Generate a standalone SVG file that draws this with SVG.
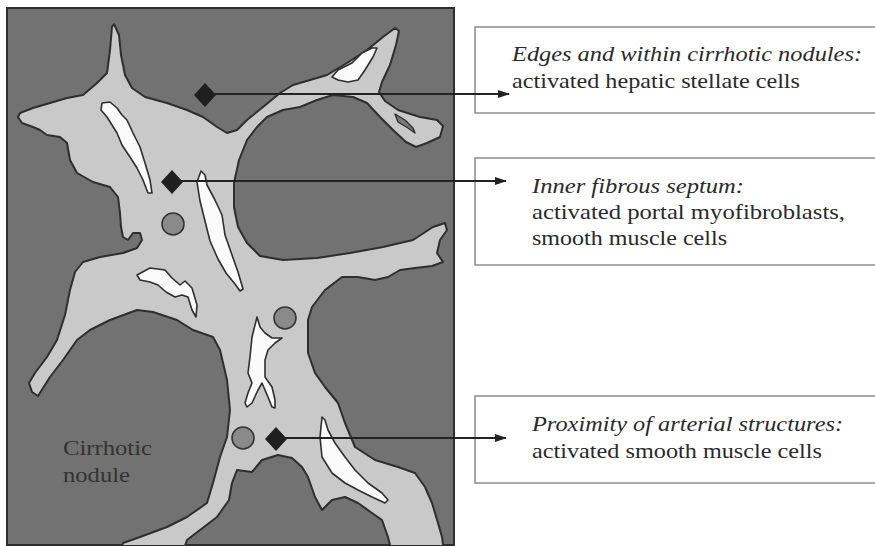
<svg xmlns="http://www.w3.org/2000/svg" width="875" height="546" viewBox="0 0 875 546">
  <style>
    .frame { fill: #727272; stroke: #2e2e2e; stroke-width: 2; }
    .septum { fill: #c9c9c9; stroke: #2e2e2e; stroke-width: 2; stroke-linejoin: round; }
    .lumen { fill: #fbfbfb; stroke: #2e2e2e; stroke-width: 1.6; stroke-linejoin: round; }
    .pocket { fill: #7a7a7a; stroke: #2e2e2e; stroke-width: 1.4; stroke-linejoin: round; }
    .vessel { fill: #8a8a8a; stroke: #353535; stroke-width: 1.6; }
    .marker { fill: #1f1f1f; }
    .box { fill: #ffffff; stroke: #8c8c8c; stroke-width: 1.5; }
    .lead { stroke: #222222; stroke-width: 2; fill: none; }
    .txt { font-family: "Liberation Serif", "Times New Roman", serif; font-size: 21px; fill: #2a2a2a; }
    .it { font-style: italic; }
    .nod { font-family: "Liberation Serif", "Times New Roman", serif; font-size: 22px; fill: #333333; }
  </style>
  <defs>
    <clipPath id="tissue">
      <rect x="7" y="8" width="447" height="537"/>
    </clipPath>
    <marker id="arrow" viewBox="0 0 12 10" refX="11" refY="5" markerWidth="12" markerHeight="10" markerUnits="userSpaceOnUse" orient="auto">
      <path d="M0,1 L12,5 L0,9 Z" fill="#222222"/>
    </marker>
  </defs>

  <!-- tissue section -->
  <g id="section">
    <rect class="frame" x="7" y="8" width="447" height="537"/>
    <g clip-path="url(#tissue)">
      <!-- fibrous septum network -->
      <path class="septum" d="M114,24 L119,35 121,55 125,75 132,88 145,97 167,103 187,110 203,117 217,127 227,133 237,130 247,120 263,107 280,93 293,85 310,80 327,75 347,63 367,50 383,37 395,28 399,31 396,45 390,65 382,82 379,92 385,101 398,110 420,117 437,120 443,126 440,137 427,143 416,147 406,142 393,130 380,117 367,103 353,97 333,95 317,100 300,107 283,110 267,117 257,127 247,140 239,160 234,183 234,207 238,227 247,243 260,256 283,260 317,258 350,253 383,247 413,240 433,227 445,223 447,230 440,240 437,253 443,262 432,266 415,268 400,270 388,277 375,280 358,277 342,277 325,290 312,307 308,320 308,353 315,373 325,387 338,403 345,423 355,447 375,460 398,467 415,473 425,487 432,503 438,523 442,537 444,552 L390,552 390,545 388,537 382,520 372,513 358,503 345,497 332,500 322,510 315,497 308,477 302,467 292,458 278,455 262,460 252,472 237,470 232,483 229,500 217,517 200,530 187,540 183,552 L120,552 123,543 140,537 167,527 187,517 207,503 213,483 220,457 227,437 230,410 227,380 220,350 213,337 193,330 177,320 153,312 137,310 110,320 90,330 77,340 63,360 50,377 38,396 32,392 29,383 35,373 47,357 57,340 65,315 70,290 75,272 83,262 100,257 123,253 137,248 142,240 140,233 133,233 128,240 123,237 121,227 120,213 118,197 110,187 93,182 77,173 70,160 67,143 60,137 47,135 40,130 33,127 22,123 18,117 20,113 33,108 50,103 67,98 83,95 97,83 107,73 110,50 112,27 Z"/>
      <!-- open lumina -->
      <path class="lumen" d="M102,103 L110,102 117,108 122,115 127,120 133,133 140,147 145,163 150,180 152,193 148,193 143,180 137,168 130,157 122,145 117,133 112,125 107,117 101,110 Z"/>
      <path class="lumen" d="M201,171 L205,175 207,185 215,200 222,215 225,235 232,255 238,272 243,289 240,291 235,284 226,273 218,259 210,241 205,221 200,201 197,182 Z"/>
      <path class="lumen" d="M137,275 L150,268 165,270 172,278 180,285 185,281 192,288 197,305 196,317 192,310 188,297 182,295 175,297 166,292 158,285 150,282 140,280 Z"/>
      <path class="lumen" d="M257,317 L252,337 250,357 248,373 252,383 248,393 245,403 247,407 252,403 258,390 262,383 268,397 272,407 275,408 275,400 272,387 265,377 265,360 268,350 275,343 282,338 272,338 265,333 260,327 Z"/>
      <path class="lumen" d="M322,417 L320,437 322,457 332,473 345,483 358,490 372,497 385,503 388,500 382,493 368,483 355,470 345,457 335,443 328,430 325,420 Z"/>
      <path class="lumen" d="M332,77 L338,70 352,63 362,53 372,48 377,48 373,57 365,70 358,80 348,82 338,80 Z"/>
      <path class="pocket" d="M395,114 L405,120 413,128 415,133 408,128 398,122 Z"/>
      <!-- arterial cross-sections -->
      <circle class="vessel" cx="173" cy="224" r="11"/>
      <circle class="vessel" cx="285" cy="318" r="11"/>
      <circle class="vessel" cx="243" cy="438" r="11"/>
    </g>
    <text class="nod" x="63" y="455" textLength="89" lengthAdjust="spacingAndGlyphs">Cirrhotic</text>
    <text class="nod" x="63" y="482" textLength="67" lengthAdjust="spacingAndGlyphs">nodule</text>
  </g>

  <!-- label boxes -->
  <g id="box-stellate">
    <rect class="box" x="475" y="27" width="410" height="86"/>
    <text class="txt it" x="512" y="61" textLength="350" lengthAdjust="spacingAndGlyphs">Edges and within cirrhotic nodules:</text>
    <text class="txt" x="512" y="88" textLength="288" lengthAdjust="spacingAndGlyphs">activated hepatic stellate cells</text>
  </g>
  <g id="box-septum">
    <rect class="box" x="475" y="158" width="410" height="107"/>
    <text class="txt it" x="532" y="193" textLength="212" lengthAdjust="spacingAndGlyphs">Inner fibrous septum:</text>
    <text class="txt" x="532" y="219" textLength="313" lengthAdjust="spacingAndGlyphs">activated portal myofibroblasts,</text>
    <text class="txt" x="532" y="245" textLength="195" lengthAdjust="spacingAndGlyphs">smooth muscle cells</text>
  </g>
  <g id="box-arterial">
    <rect class="box" x="475" y="396" width="410" height="87"/>
    <text class="txt it" x="532" y="431" textLength="311" lengthAdjust="spacingAndGlyphs">Proximity of arterial structures:</text>
    <text class="txt" x="532" y="458" textLength="290" lengthAdjust="spacingAndGlyphs">activated smooth muscle cells</text>
  </g>

  <!-- site markers and leader arrows -->
  <g id="connectors">
    <line class="lead" x1="205" y1="94" x2="509" y2="94" marker-end="url(#arrow)"/>
    <line class="lead" x1="172" y1="181" x2="506" y2="181" marker-end="url(#arrow)"/>
    <line class="lead" x1="276" y1="438" x2="506" y2="438" marker-end="url(#arrow)"/>
    <path class="marker" d="M205,83 L216,95 L205,107 L194,95 Z"/>
    <path class="marker" d="M172,170 L183,182 L172,194 L161,182 Z"/>
    <path class="marker" d="M276,427 L287,439 L276,451 L265,439 Z"/>
  </g>
</svg>
